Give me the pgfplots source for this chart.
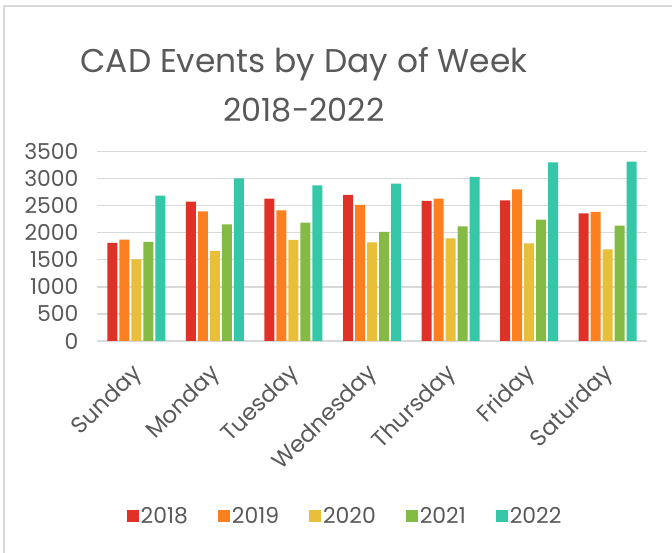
\documentclass[border=0pt]{standalone}
\usepackage{fontspec}
\setmainfont{Poppins}
\usepackage{pgfplots}
\pgfplotsset{compat=1.18}
\definecolor{cA}{HTML}{E03129}
\definecolor{cB}{HTML}{FD8020}
\definecolor{cC}{HTML}{E9BE38}
\definecolor{cD}{HTML}{84BB44}
\definecolor{cE}{HTML}{34C7A8}
\definecolor{txt}{HTML}{595959}
\definecolor{gridc}{HTML}{D9D9D9}
\pgfplotstableread{
x y18 y19 y20 y21 y22
0 1808 1870 1507 1827 2682
1 2571 2393 1661 2153 3002
2 2626 2411 1864 2184 2873
3 2694 2510 1821 2011 2903
4 2583 2626 1894 2116 3026
5 2596 2799 1802 2239 3297
6 2356 2380 1692 2128 3309
}\datatable
\begin{document}
\begin{tikzpicture}[x=1bp,y=1bp]
\path[use as bounding box] (0,0) rectangle (672,553);
\draw[gridc, line width=2bp] (4,0) -- (4,547) -- (672,547);
\node[txt, anchor=base, font=\fontsize{33}{40}\selectfont, inner sep=0] at (304,480) {CAD Events by Day of Week};
\node[txt, anchor=base, font=\fontsize{32}{40}\selectfont, inner sep=0] at (304,431) {2018-2022};
\begin{axis}[
  at={(97bp,212bp)}, anchor=south west,
  width=550bp, height=189.7bp, scale only axis,
  xmin=-0.5, xmax=6.5, ymin=0, ymax=3500,
  ytick={0,500,...,3500},
  xtick={0,...,6},
  xticklabels={Sunday,Monday,Tuesday,Wednesday,Thursday,Friday,Saturday},
  ymajorgrids, grid style={gridc, line width=1.5bp},
  axis line style={draw=none},
  major tick length=0pt, tick style={draw=none},
  /pgf/number format/assume math mode=true,
  /pgf/number format/1000 sep={},
  yticklabel style={font=\fontsize{22}{26}\selectfont, text=txt, xshift=-15bp},
  xticklabel style={xshift=-6bp, yshift=-21bp, font=\fontsize{23}{28}\selectfont, text=txt, rotate=45, anchor=north east, inner sep=0pt},
  ybar=2bp, bar width=10bp,
  legend style={at={(0.451,-0.922)}, anchor=center, draw=none, fill=none, legend columns=5,
    font=\fontsize{22}{26}\selectfont, text=txt,
    /tikz/every even column/.append style={column sep=28bp}},
  legend image code/.code={\fill[#1] (0bp,-6bp) rectangle (12bp,6bp);},
]
\addplot[fill=cA, draw=none] table[x=x,y=y18] {\datatable};
\addplot[fill=cB, draw=none] table[x=x,y=y19] {\datatable};
\addplot[fill=cC, draw=none] table[x=x,y=y20] {\datatable};
\addplot[fill=cD, draw=none] table[x=x,y=y21] {\datatable};
\addplot[fill=cE, draw=none] table[x=x,y=y22] {\datatable};
\legend{2018,2019,2020,2021,2022}
\end{axis}
\end{tikzpicture}
\end{document}
